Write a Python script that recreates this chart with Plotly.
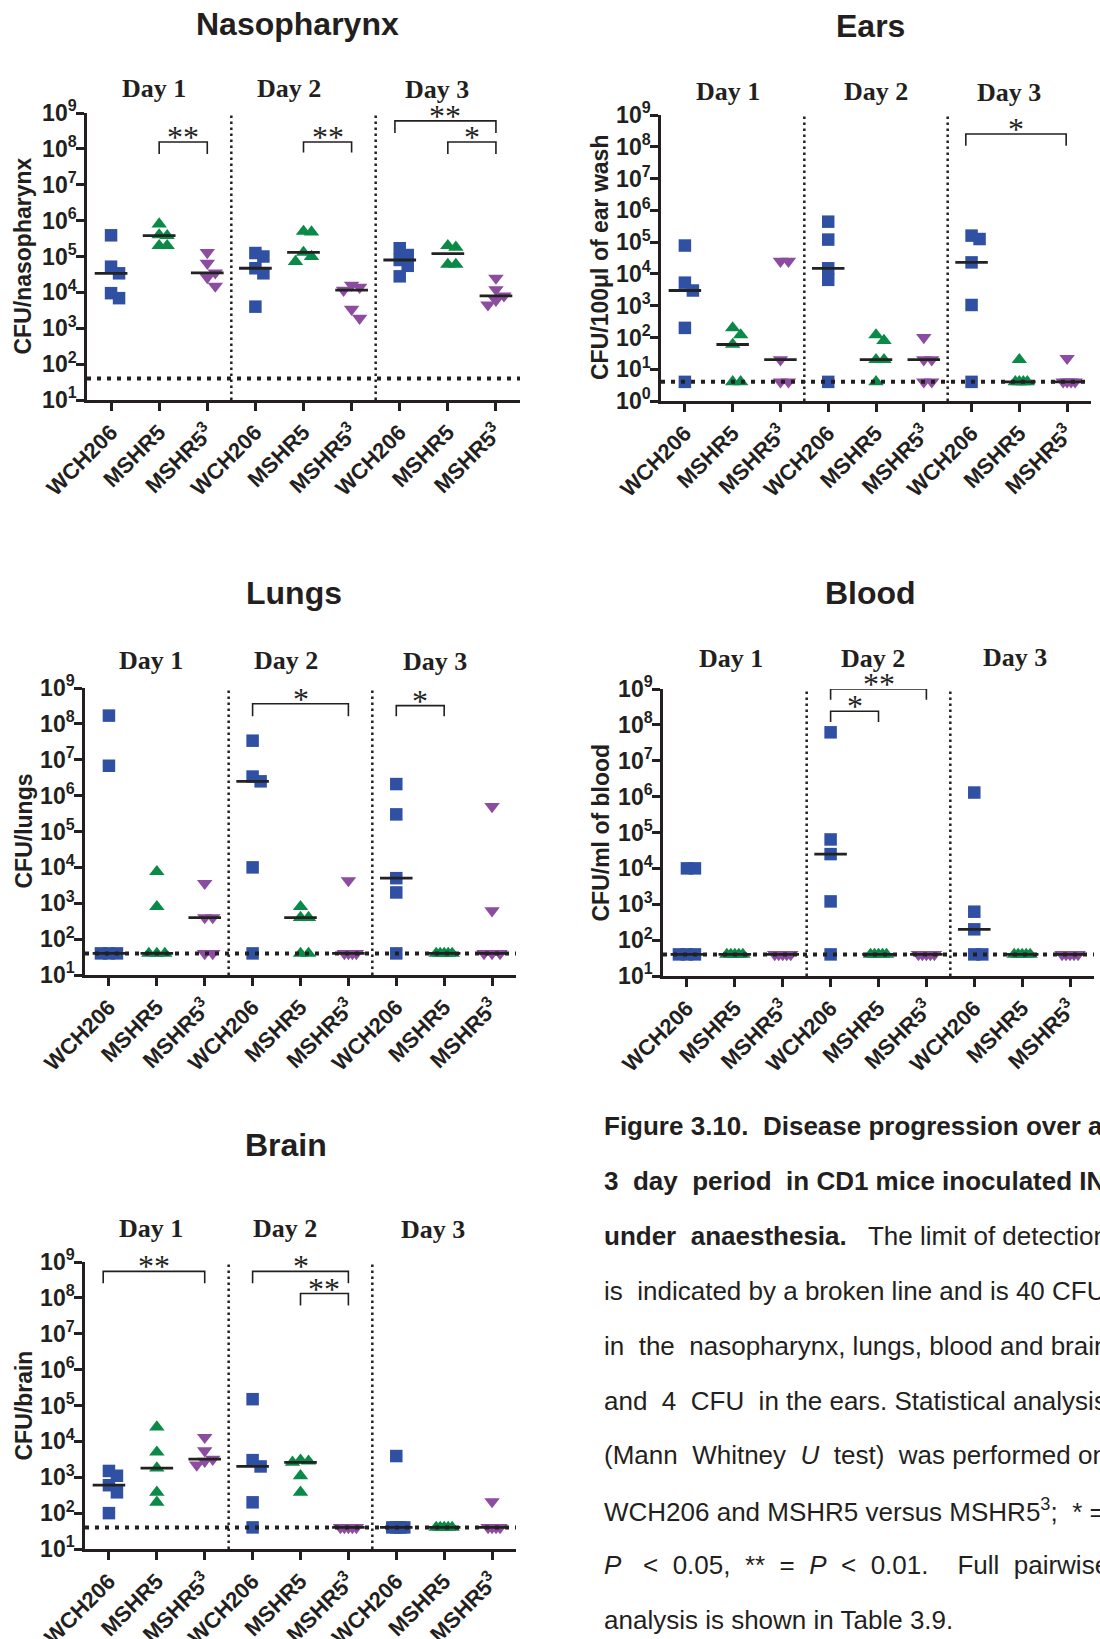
import numpy as np
import plotly.graph_objects as go

W, H = 1100, 1639
INK = "#231F20"
SANS = "Liberation Sans, Arial, sans-serif"
SERIF = "Liberation Serif, Times New Roman, serif"

strains = ["WCH206", "MSHR5", "MSHR5<sup>3</sup>"]
tick_labels = strains * 3
day_labels = ["Day 1", "Day 2", "Day 3"]
colors = ["#2F50A3", "#0A8A47", "#8C4C9F"]
symbols = ["square", "triangle-up", "triangle-down"]

# ---------------- data (CFU), one list per day ----------------
naso_wch206 = [[3.9e5, 5.2e4, 3.4e4, 9.5e3, 6.9e3], [1.25e5, 1.0e5, 4.7e4, 3.4e4, 4.0e3], [1.7e5, 1.1e5, 8.0e4, 5.5e4, 2.8e4]]
naso_mshr5 = [[8.0e5, 4.0e5, 3.8e5, 2.0e5, 2.0e5], [5.0e5, 4.8e5, 1.3e5, 1.0e5, 7.2e4], [2.0e5, 1.8e5, 6.0e4, 6.0e4]]
naso_mshr53 = [[1.3e5, 6.5e4, 3.5e4, 2.6e4, 1.5e4], [1.6e4, 1.4e4, 1.15e4, 3.4e3, 1.9e3], [2.5e4, 1.2e4, 8.0e3, 6.0e3, 4.5e3]]

ears_wch206 = [[7.8e4, 5.3e3, 3.0e3, 2.0e2, 4], [4.4e5, 1.2e5, 1.5e4, 6.5e3, 4], [1.6e5, 1.25e5, 2.3e4, 1.05e3, 4]]
ears_mshr5 = [[2.0e2, 1.2e2, 60, 4, 4], [1.2e2, 80, 20, 20, 4], [20, 4, 4, 4, 4]]
ears_mshr53 = [[2.5e4, 2.5e4, 20, 4, 4], [1.0e2, 20, 20, 4, 4], [22, 4, 4, 4, 4]]

lungs_wch206 = [[1.7e8, 6.8e6, 40, 40, 40], [3.4e7, 3.4e6, 2.5e6, 1.0e4, 40], [2.1e6, 3.0e5, 5.0e3, 2.0e3, 40]]
lungs_mshr5 = [[7.6e3, 8.0e2, 40, 40, 40], [8.0e2, 4.0e2, 4.0e2, 40, 40], [40, 40, 40, 40, 40]]
lungs_mshr53 = [[3.6e3, 4.0e2, 4.0e2, 40, 40], [4.3e3, 40, 40, 40, 40], [5.0e5, 6.2e2, 40, 40, 40]]

blood_wch206 = [[1.0e4, 1.0e4, 40, 40, 40], [6.2e7, 6.4e4, 2.5e4, 1.2e3, 40], [1.3e6, 6.2e2, 2.0e2, 40, 40]]
blood_mshr5 = [[40, 40, 40, 40, 40], [40, 40, 40, 40, 40], [40, 40, 40, 40, 40]]
blood_mshr53 = [[40, 40, 40, 40, 40], [40, 40, 40, 40, 40], [40, 40, 40, 40, 40]]

brain_wch206 = [[1.5e3, 1.1e3, 6.0e2, 3.8e2, 1.0e2], [1.5e5, 3.0e3, 2.0e3, 2.0e2, 40], [3.9e3, 40, 40, 40, 40]]
brain_mshr5 = [[2.5e4, 5.0e3, 1.8e3, 3.8e2, 2.0e2], [3.0e3, 2.8e3, 2.6e3, 1.1e3, 3.8e2], [40, 40, 40, 40, 40]]
brain_mshr53 = [[1.3e4, 5.5e3, 3.2e3, 2.8e3, 2.2e3], [40, 40, 40, 40, 40], [2.1e2, 40, 40, 40, 40]]

# limits of detection
lod_naso, lod_ears, lod_lungs, lod_blood, lod_brain = 40, 4, 40, 40, 40

# significance brackets: (from category, to category, top log10, end log10, label)
sig_naso = [(1, 2, 8.19, 7.86, "**"), (4, 5, 8.19, 7.90, "**"), (5.9, 8, 8.78, 8.44, "**"), (7, 8, 8.19, 7.86, "*")]
sig_ears = [(5.88, 7.98, 8.40, 8.03, "*")]
sig_lungs = [(3, 5, 8.56, 8.21, "*"), (6, 7, 8.51, 8.21, "*")]
sig_blood = [(3, 5, 9.0, 8.70, "**"), (3, 4, 8.38, 8.08, "*")]
sig_brain = [(-0.12, 2, 8.74, 8.41, "**"), (3, 5, 8.74, 8.41, "*"), (4, 5, 8.12, 7.79, "**")]

# ---------------- layout of the panels (pixels) ----------------
panels = [
    dict(title="Nasopharynx", ylab="CFU/nasopharynx", data=[naso_wch206, naso_mshr5, naso_mshr53], lod=lod_naso, sig=sig_naso,
         x0=87, x1=520, yt=113, yb=400, yr=(1, 9), tpos=(297, 24), ylx=23,
         days=[(154, 88), (289, 88), (437, 89)]),
    dict(title="Ears", ylab="CFU/100μl of ear wash", data=[ears_wch206, ears_mshr5, ears_mshr53], lod=lod_ears, sig=sig_ears,
         x0=661, x1=1091, yt=115, yb=401, yr=(0, 9), tpos=(870, 26), ylx=600,
         days=[(728, 91), (876, 91), (1009, 93)]),
    dict(title="Lungs", ylab="CFU/lungs", data=[lungs_wch206, lungs_mshr5, lungs_mshr53], lod=lod_lungs, sig=sig_lungs,
         x0=85, x1=516, yt=688, yb=975, yr=(1, 9), tpos=(294, 593), ylx=23,
         days=[(151, 660), (286, 660), (435, 661)]),
    dict(title="Blood", ylab="CFU/ml of blood", data=[blood_wch206, blood_mshr5, blood_mshr53], lod=lod_blood, sig=sig_blood,
         x0=663, x1=1094, yt=689, yb=976, yr=(1, 9), tpos=(870, 593), ylx=600,
         days=[(731, 658), (873, 658), (1015, 657)]),
    dict(title="Brain", ylab="CFU/brain", data=[brain_wch206, brain_mshr5, brain_mshr53], lod=lod_brain, sig=sig_brain,
         x0=85, x1=516, yt=1262, yb=1549, yr=(1, 9), tpos=(286, 1145), ylx=23,
         days=[(151, 1228), (285, 1228), (433, 1229)]),
]

caption_lines = [
    "<b>Figure 3.10.  Disease progression over a</b>",
    "<b>3 day period in CD1 mice inoculated IN</b>",
    "<b>under anaesthesia.</b>  The limit of detection",
    "is indicated by a broken line and is 40 CFU",
    "in the nasopharynx, lungs, blood and brain",
    "and 4 CFU in the ears. Statistical analysis",
    "(Mann Whitney <i>U</i> test) was performed on",
    "WCH206 and MSHR5 versus MSHR5<sup>3</sup>;  * =",
    "<i>P</i> &lt; 0.05, ** = <i>P</i> &lt; 0.01.  Full pairwise",
    "analysis is shown in Table 3.9.",
]

# Arial / Liberation Sans advance widths (1/1000 em) used to justify the caption
_REG = dict(zip(" !(),.*;<=", [278, 278, 333, 333, 278, 278, 389, 278, 584, 584]))
_REG.update({c: 556 for c in "0123456789"})
_REG.update(dict(zip("ABCDEFGHIJKLMNOPQRSTUVWXYZ",
                     [667, 667, 722, 722, 667, 611, 778, 722, 278, 500, 667, 556, 833, 722, 778, 667, 778, 722, 667, 611, 722, 667, 944, 667, 667, 611])))
_REG.update(dict(zip("abcdefghijklmnopqrstuvwxyz",
                     [556, 556, 500, 556, 556, 278, 556, 556, 222, 222, 500, 222, 833, 556, 556, 556, 556, 333, 500, 278, 556, 500, 722, 500, 500, 500])))
_BOLD = dict(_REG)
_BOLD.update(dict(zip("abcdefghijklmnopqrstuvwxyz",
                      [556, 611, 556, 611, 556, 333, 611, 611, 278, 278, 556, 278, 889, 611, 611, 611, 611, 389, 556, 333, 611, 556, 778, 556, 556, 500])))
_BOLD.update({"I": 278, "N": 722, "C": 722, "D": 722, "F": 611})


def text_width(markup, size):
    bold = sup = False
    w, i = 0.0, 0
    while i < len(markup):
        if markup[i] == "<":
            j = markup.index(">", i)
            tag = markup[i + 1:j]
            bold = True if tag == "b" else (False if tag == "/b" else bold)
            sup = True if tag == "sup" else (False if tag == "/sup" else sup)
            i = j + 1
            continue
        if markup.startswith("&lt;", i):
            ch, i = "<", i + 4
        else:
            ch, i = markup[i], i + 1
        w += (_BOLD if bold else _REG).get(ch, 556) / 1000 * size * (0.7 if sup else 1)
    return w


def justify(markup, size, target):
    parts = markup.split(" ")
    gaps = len(parts) - 1
    extra = target - text_width(markup, size)
    n = int(round(extra / (0.278 * size)))
    if gaps == 0 or n <= 0:
        return markup
    out = parts[0]
    for g, part in enumerate(parts[1:]):
        k = n // gaps + (1 if g < n % gaps else 0)
        out += " " * (1 + k) + part
    return out


def swarm(vals, ppd, ppc, step=8.0, dy=10.0, maxhalf=8.0):
    """Spread overlapping points sideways (GraphPad-style scatter)."""
    ly = np.log10(np.asarray(vals, float)) * ppd
    order = np.argsort(-ly, kind="stable")
    placed, off = [], np.zeros(len(vals))
    for i in order:
        for c in [0, 1, -1, 2, -2, 3, -3, 4, -4, 5, -5]:
            x = c * step
            if all(not (abs(x - px_) < step - 0.5 and abs(ly[i] - py_) < dy) for px_, py_ in placed):
                break
        off[i] = x
        placed.append((x, ly[i]))
    m = np.abs(off).max()
    if m > maxhalf:
        off *= maxhalf / m
    return off / ppc


fig = go.Figure()
annotations = []
px = lambda v: v / W
py = lambda v: 1 - v / H

for k, p in enumerate(panels, start=1):
    sfx = "" if k == 1 else str(k)
    xa, ya = f"x{sfx}", f"y{sfx}"
    lo, hi = p["yr"]
    ppd = (p["yb"] - p["yt"]) / (hi - lo)
    ppc = (p["x1"] - p["x0"]) / 9.0

    med_x, med_y = [], []
    for s in range(3):
        xs, ys = [], []
        for d in range(3):
            vals = p["data"][s][d]
            cat = 3 * d + s
            offs = swarm(vals, ppd, ppc)
            xs += list(cat + offs)
            ys += list(vals)
            med = float(np.median(vals))
            med_x += [cat - 0.34, cat + 0.34, None]
            med_y += [med, med, None]
        fig.add_trace(go.Scatter(x=xs, y=ys, mode="markers", xaxis=xa, yaxis=ya, showlegend=False,
                                 marker=dict(symbol=symbols[s], color=colors[s],
                                             size=12.5 if s == 0 else 13.5, line=dict(width=0)),
                                 cliponaxis=False))
    # medians
    fig.add_trace(go.Scatter(x=med_x, y=med_y, mode="lines", xaxis=xa, yaxis=ya, showlegend=False,
                             line=dict(color="#222222", width=2.8), hoverinfo="skip"))
    # day separators
    for xsep in (2.5, 5.5):
        fig.add_trace(go.Scatter(x=[xsep, xsep], y=[10 ** lo, 10 ** hi], mode="lines", xaxis=xa, yaxis=ya,
                                 showlegend=False, line=dict(color=INK, width=2.5, dash="2.5px,3.5px"),
                                 hoverinfo="skip"))
    # limit of detection
    fig.add_trace(go.Scatter(x=[-0.5, 8.5], y=[p["lod"], p["lod"]], mode="lines", xaxis=xa, yaxis=ya,
                             showlegend=False, line=dict(color=INK, width=4, dash="4px,6px"),
                             hoverinfo="skip", cliponaxis=False))
    # significance brackets
    bx, by = [], []
    for a, b, top, end, lab in p["sig"]:
        bx += [a, a, b, b, None]
        by += [10 ** end, 10 ** top, 10 ** top, 10 ** end, None]
        annotations.append(dict(x=(a + b) / 2, y=(top - lo) / (hi - lo), xref=xa, yref=f"{ya} domain",
                                text=lab, showarrow=False, xanchor="center", yanchor="middle", yshift=5,
                                font=dict(family=SERIF, size=32, color=INK)))
    fig.add_trace(go.Scatter(x=bx, y=by, mode="lines", xaxis=xa, yaxis=ya, showlegend=False,
                             line=dict(color=INK, width=1.6), hoverinfo="skip", cliponaxis=False))

    axis_common = dict(showline=True, linewidth=2.5, linecolor=INK, ticks="outside", ticklen=8,
                       tickwidth=2.5, tickcolor=INK, showgrid=False, zeroline=False, automargin=False)
    fig.update_layout(**{
        f"xaxis{sfx}": dict(domain=[px(p["x0"]), px(p["x1"])], anchor=ya, range=[-0.5, 8.5],
                            tickmode="array", tickvals=list(range(9)), ticktext=tick_labels, tickangle=-45,
                            tickfont=dict(family=SANS, size=22, color=INK, weight="bold"), **axis_common),
        f"yaxis{sfx}": dict(domain=[py(p["yb"]), py(p["yt"])], anchor=xa, type="log", range=[lo, hi],
                            tickmode="array", tickvals=[10 ** e for e in range(lo, hi + 1)],
                            ticktext=[f"10<sup>{e}</sup>" for e in range(lo, hi + 1)], ticklabelstandoff=-5,
                            tickfont=dict(family=SANS, size=23, color=INK, weight="bold"), **axis_common),
    })

    annotations.append(dict(x=px(p["tpos"][0]), y=py(p["tpos"][1]), xref="paper", yref="paper",
                            text=p["title"], showarrow=False, xanchor="center", yanchor="middle",
                            font=dict(family=SANS, size=32, color=INK, weight="bold")))
    annotations.append(dict(x=px(p["ylx"]), y=py((p["yt"] + p["yb"]) / 2), xref="paper", yref="paper",
                            text=p["ylab"], textangle=-90, showarrow=False, xanchor="center", yanchor="middle",
                            font=dict(family=SANS, size=23, color=INK, weight="bold")))
    for lab, (dx, dy) in zip(day_labels, p["days"]):
        annotations.append(dict(x=px(dx), y=py(dy), xref="paper", yref="paper", text=lab, showarrow=False,
                                xanchor="center", yanchor="middle",
                                font=dict(family=SERIF, size=26, color=INK, weight="bold")))

cap_x, cap_y0, cap_dy, cap_size, cap_right = 602, 1126, 54.9, 26, 1104
for i, line in enumerate(caption_lines):
    text = justify(line, cap_size, cap_right - cap_x) if i < len(caption_lines) - 1 else line
    annotations.append(dict(x=px(cap_x), y=py(cap_y0 + i * cap_dy), xref="paper", yref="paper", text=text,
                            showarrow=False, xanchor="left", yanchor="middle",
                            font=dict(family=SANS, size=cap_size, color=INK)))

fig.update_layout(width=W, height=H, margin=dict(l=0, r=0, t=0, b=0, autoexpand=False),
                  paper_bgcolor="white", plot_bgcolor="white", annotations=annotations, showlegend=False)

fig.write_html("out.html")
